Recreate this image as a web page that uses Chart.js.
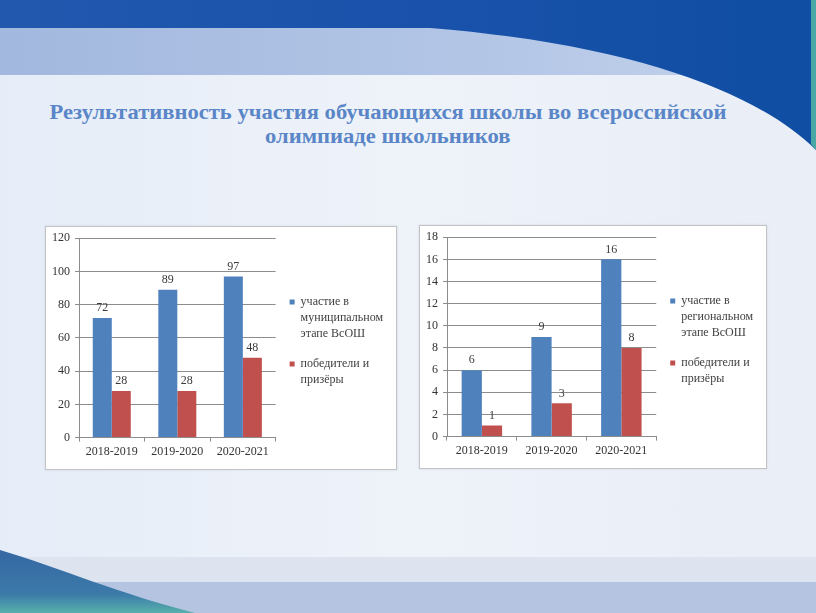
<!DOCTYPE html>
<html>
<head>
<meta charset="utf-8">
<script src="https://cdn.jsdelivr.net/npm/chart.js@4.4.0/dist/chart.umd.min.js"></script>
<style>
  html, body { margin: 0; padding: 0; }
  body { width: 816px; height: 613px; position: relative; overflow: hidden; background: #ebf0f8; }
  #bg { position: absolute; left: 0; top: 0; }
  .title { position: absolute; left: 0; width: 776px; text-align: center; font-family: "Liberation Serif", "Times New Roman", serif; font-weight: bold; font-size: 20px; line-height: 24px; color: #5a86c8; white-space: nowrap; }
  .title span { display: inline-block; transform-origin: center; }
  .box { position: absolute; box-sizing: border-box; border: 1px solid #c3c3c3; background: #ffffff; box-shadow: 0 0 2px rgba(160,170,190,0.35); }
  .chart { position: absolute; }
</style>
</head>
<body>
<svg id="bg" width="816" height="613" viewBox="0 0 816 613">
  <defs>
    <linearGradient id="body" x1="0" y1="0" x2="1" y2="0">
      <stop offset="0" stop-color="#e6edf8"/>
      <stop offset="0.5" stop-color="#eef2f9"/>
      <stop offset="1" stop-color="#e9eef7"/>
    </linearGradient>
    <linearGradient id="lightband" x1="0" y1="0" x2="1" y2="0">
      <stop offset="0" stop-color="#a2b8de"/>
      <stop offset="0.6" stop-color="#b3c6e6"/>
      <stop offset="1" stop-color="#c6d4ec"/>
    </linearGradient>
    <linearGradient id="dark" x1="0" y1="0" x2="1" y2="0">
      <stop offset="0" stop-color="#2258ae"/>
      <stop offset="0.5" stop-color="#1a52ab"/>
      <stop offset="1" stop-color="#0f4ea2"/>
    </linearGradient>
    <linearGradient id="swoosh" x1="0" y1="0" x2="0" y2="1">
      <stop offset="0" stop-color="#3567a3"/>
      <stop offset="0.7" stop-color="#3c7aa9"/>
      <stop offset="1" stop-color="#58b0ad"/>
    </linearGradient>
  </defs>
  <rect x="0" y="0" width="816" height="613" fill="url(#body)"/>
  <rect x="0" y="28" width="816" height="47" fill="url(#lightband)"/>
  <path d="M0,0 H816 V150 C 760,95 640,45 430,28 H0 Z" fill="url(#dark)"/>
  <path d="M811,0 H816 V150 L811,144 Z" fill="#4aa8a4"/>
  <rect x="0" y="557" width="816" height="25" fill="#dde4f0"/>
  <rect x="0" y="582" width="816" height="31" fill="#b5c5e1"/>
  <path d="M0,550 C 60,568 120,594 195,613 L0,613 Z" fill="url(#swoosh)"/>
</svg>

<div class="title" style="top:100px"><span id="t1">Результативность  участия  обучающихся школы во всероссийской</span></div>
<div class="title" style="top:124px"><span id="t2">олимпиаде школьников</span></div>

<div class="box" style="left:45px;top:226px;width:352px;height:244px"></div>
<div class="chart" style="left:45px;top:226px;width:352px;height:244px"><canvas id="c1"></canvas></div>
<div class="box" style="left:419px;top:225px;width:348px;height:244px"></div>
<div class="chart" style="left:419px;top:225px;width:348px;height:244px"><canvas id="c2"></canvas></div>

<script>
// ---- data ----
const years = ['2018-2019', '2019-2020', '2020-2021'];
const municipalParticipants = [72, 89, 97];
const municipalWinners = [28, 28, 48];
const regionalParticipants = [6, 9, 16];
const regionalWinners = [1, 3, 8];
const municipalLabel = ['участие в', 'муниципальном', 'этапе ВсОШ'];
const regionalLabel = ['участие в', 'региональном', 'этапе ВсОШ'];
const winnersLabel = ['победители и', 'призёры'];

// ---- title fit ----
(function () {
  const t1 = document.getElementById('t1');
  const t2 = document.getElementById('t2');
  const w = t1.getBoundingClientRect().width;
  const s = 677 / w;
  t1.style.transform = 'scaleX(' + s + ')';
  t2.style.transform = 'scaleX(' + s + ')';
})();

Chart.defaults.font.family = '"Liberation Serif", "Times New Roman", serif';
Chart.defaults.color = '#404040';

const valueLabels = {
  id: 'valueLabels',
  afterDatasetsDraw(chart) {
    const ctx = chart.ctx;
    ctx.save();
    ctx.font = '12px "Liberation Serif", serif';
    ctx.fillStyle = '#3a3a3a';
    ctx.textAlign = 'center';
    ctx.textBaseline = 'middle';
    chart.data.datasets.forEach((ds, i) => {
      const meta = chart.getDatasetMeta(i);
      meta.data.forEach((bar, j) => {
        ctx.fillText(String(ds.data[j]), bar.x, bar.y - 10);
      });
    });
    ctx.restore();
  }
};

function makeChart(id, partLabel, part, win, maxV, step, pad) {
  const gridColor = '#8c8c8c';
  return new Chart(document.getElementById(id), {
    type: 'bar',
    data: {
      labels: years,
      datasets: [
        { label: partLabel, data: part, backgroundColor: '#4f81bd', borderWidth: 0 },
        { label: winnersLabel, data: win, backgroundColor: '#c0504d', borderWidth: 0 }
      ]
    },
    options: {
      responsive: true,
      maintainAspectRatio: false,
      animation: false,
      datasets: { bar: { categoryPercentage: 0.58, barPercentage: 1.0 } },
      layout: { padding: pad },
      plugins: {
        tooltip: { enabled: false },
        legend: {
          position: 'right',
          fullSize: false,
          maxWidth: 200,
          title: { display: true, text: '', padding: 0, font: { size: 10, lineHeight: 1 } },
          labels: {
            boxWidth: 5, boxHeight: 5, padding: 14,
            color: '#404040',
            font: { size: 12, lineHeight: 1.3333 }
          }
        }
      },
      scales: {
        x: {
          grid: { drawOnChartArea: false, drawTicks: true, tickLength: 4, color: gridColor },
          border: { color: gridColor },
          ticks: { padding: 3, font: { size: 12 }, color: '#333333' }
        },
        y: {
          min: 0, max: maxV,
          grid: { color: gridColor, tickLength: 4 },
          border: { color: gridColor },
          ticks: { stepSize: step, padding: 5, font: { size: 12 }, color: '#333333' }
        }
      }
    },
    plugins: [valueLabels]
  });
}

makeChart('c1', municipalLabel, municipalParticipants, municipalWinners, 120, 20, { top: 10, left: 2, bottom: 8, right: 4 });
makeChart('c2', regionalLabel, regionalParticipants, regionalWinners, 18, 2, { top: 12, left: 2, bottom: 8, right: 4 });
</script>
</body>
</html>
